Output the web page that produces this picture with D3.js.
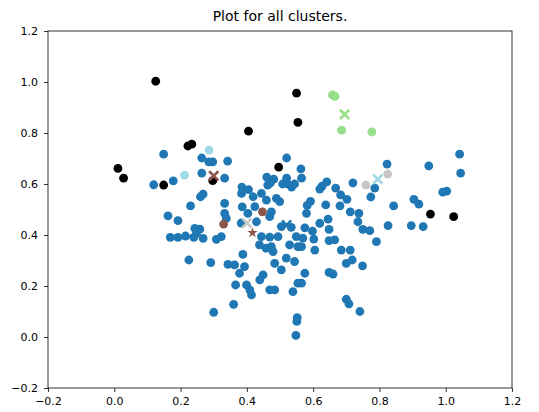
<!DOCTYPE html>
<html>
<head>
<meta charset="utf-8">
<script src="https://cdn.jsdelivr.net/npm/d3@7"></script>
<style>
  html, body { margin: 0; padding: 0; background: #fff; }
  svg { display: block; }
  text { font-family: "DejaVu Sans", sans-serif; fill: #000; }
</style>
</head>
<body>
<svg id="chart" width="539" height="412"></svg>
<script>
// Cluster members as [x, y] pairs
const clusterBlue = [
  [0.149,0.717],[0.119,0.597],[0.178,0.612],[0.264,0.702],[0.285,0.687],[0.297,0.687],
  [0.342,0.690],[0.264,0.643],[0.333,0.623],[0.520,0.702],[0.563,0.659],[0.460,0.627],
  [0.481,0.619],[0.463,0.596],[0.471,0.604],[0.520,0.623],[0.523,0.600],[0.508,0.600],
  [0.535,0.588],[0.544,0.600],[0.565,0.623],[0.627,0.592],[0.641,0.608],[0.385,0.588],
  [0.405,0.578],[0.260,0.550],[0.268,0.560],[0.384,0.563],[0.419,0.550],[0.444,0.563],
  [0.459,0.537],[0.489,0.544],[0.499,0.531],[0.333,0.524],[0.424,0.511],[0.403,0.485],
  [0.333,0.485],[0.338,0.465],[0.429,0.452],[0.469,0.472],[0.474,0.491],[0.504,0.433],
  [0.534,0.430],[0.444,0.394],[0.469,0.392],[0.494,0.394],[0.549,0.394],[0.438,0.361],
  [0.458,0.348],[0.474,0.354],[0.479,0.335],[0.529,0.361],[0.554,0.354],[0.388,0.324],
  [0.519,0.309],[0.544,0.296],[0.484,0.289],[0.504,0.263],[0.343,0.285],[0.363,0.283],
  [0.393,0.276],[0.378,0.250],[0.449,0.244],[0.439,0.224],[0.323,0.394],[0.366,0.204],
  [0.399,0.204],[0.409,0.185],[0.414,0.165],[0.469,0.185],[0.484,0.185],[0.539,0.178],
  [0.360,0.128],[0.569,0.388],[0.602,0.384],[0.565,0.354],[0.605,0.341],[0.575,0.250],
  [0.554,0.211],[0.565,0.211],[0.300,0.097],[0.552,0.076],[0.551,0.061],[0.548,0.006],
  [0.230,0.514],[0.162,0.475],[0.192,0.456],[0.243,0.426],[0.258,0.423],[0.248,0.407],
  [0.169,0.391],[0.192,0.391],[0.215,0.396],[0.240,0.391],[0.268,0.387],[0.308,0.383],
  [0.225,0.302],[0.291,0.292],[0.823,0.678],[0.949,0.671],[1.042,0.717],[1.045,0.643],
  [0.786,0.584],[0.668,0.584],[0.720,0.604],[0.620,0.580],[0.683,0.557],[0.702,0.540],
  [0.774,0.549],[0.904,0.540],[0.919,0.521],[0.991,0.568],[1.003,0.572],[0.843,0.514],
  [0.638,0.518],[0.681,0.514],[0.712,0.491],[0.738,0.485],[0.645,0.462],[0.620,0.446],
  [0.735,0.452],[0.750,0.422],[0.771,0.417],[0.648,0.422],[0.826,0.437],[0.896,0.437],
  [0.932,0.433],[0.791,0.374],[0.648,0.378],[0.665,0.381],[0.685,0.341],[0.712,0.341],
  [0.700,0.289],[0.718,0.302],[0.749,0.279],[0.648,0.253],[0.660,0.247],[0.700,0.148],
  [0.708,0.130],[0.741,0.100],[0.592,0.532],[0.582,0.516],[0.580,0.485],[0.575,0.428],
  [0.598,0.415],[0.386,0.510],[0.383,0.447]
];
const clusterNoise = [
  [0.125,1.003],[0.550,0.956],[0.554,0.842],[0.405,0.807],[0.222,0.749],[0.234,0.756],
  [0.496,0.666],[0.011,0.661],[0.028,0.623],[0.149,0.596],[0.297,0.613],[0.954,0.482],
  [1.024,0.472]
];
const clusterGreen = [[0.658,0.949],[0.666,0.944],[0.686,0.811],[0.777,0.804]];
const clusterCyan  = [[0.286,0.733],[0.212,0.635]];
const clusterBrown = [[0.447,0.491],[0.330,0.443]];
const clusterGray  = [[0.759,0.596],[0.825,0.639]];

// Cluster centres
const centreNames  = ["blue", "green", "cyan", "brown", "gray"];
const centreX      = [0.520, 0.695, 0.795, 0.300, 0.400];
const centreY      = [0.439, 0.873, 0.619, 0.632, 0.447];
const starPoint    = [0.417, 0.409];

const xTicks = [-0.2, 0.0, 0.2, 0.4, 0.6, 0.8, 1.0, 1.2];
const yTicks = [-0.2, 0.0, 0.2, 0.4, 0.6, 0.8, 1.0, 1.2];
const titleText = "Plot for all clusters.";

const colors = {
  blue: "#1f77b4", noise: "#000000", green: "#98df8a",
  cyan: "#9edae5", brown: "#8c564b", gray: "#c7c7c7"
};

const svg = d3.select("#chart");
const plot = { left: 48, right: 512, top: 31, bottom: 388 };

const x = d3.scaleLinear().domain([-0.2, 1.2]).range([plot.left, plot.right]);
const y = d3.scaleLinear().domain([-0.2, 1.2]).range([plot.bottom, plot.top]);

const fmt = d3.format(".1f");

// Axes
const xAxis = svg.append("g")
  .attr("transform", `translate(0,${plot.bottom})`)
  .call(d3.axisBottom(x).tickValues(xTicks).tickFormat(fmt).tickSizeOuter(0).tickSize(4).tickPadding(5));
const yAxis = svg.append("g")
  .attr("transform", `translate(${plot.left},0)`)
  .call(d3.axisLeft(y).tickValues(yTicks).tickFormat(fmt).tickSizeOuter(0).tickSize(4).tickPadding(6));
[xAxis, yAxis].forEach(g => {
  g.select(".domain").remove();
  g.selectAll(".tick line").attr("stroke", "#000").attr("stroke-width", 0.8);
  g.selectAll(".tick text").style("font-size", "11px").style("font-family", "DejaVu Sans, sans-serif");
});

// Frame
svg.append("rect")
  .attr("x", plot.left).attr("y", plot.top)
  .attr("width", plot.right - plot.left).attr("height", plot.bottom - plot.top)
  .attr("fill", "none").attr("stroke", "#000").attr("stroke-width", 0.8);

// Title
svg.append("text")
  .attr("x", (plot.left + plot.right) / 2).attr("y", 21)
  .attr("text-anchor", "middle")
  .style("font-size", "14px")
  .text(titleText);

const pts = svg.append("g");
function drawCluster(data, color) {
  pts.selectAll(null).data(data).enter().append("circle")
    .attr("cx", d => x(d[0])).attr("cy", d => y(d[1]))
    .attr("r", 4.4).attr("fill", color);
}
drawCluster(clusterBlue, colors.blue);
drawCluster(clusterNoise, colors.noise);
drawCluster(clusterGreen, colors.green);
drawCluster(clusterCyan, colors.cyan);
drawCluster(clusterBrown, colors.brown);
drawCluster(clusterGray, colors.gray);

// Centre markers drawn as crosses
const centres = centreNames.map((n, i) => ({ name: n, cx: centreX[i], cy: centreY[i] }));
const cg = svg.append("g");
const h = 4.6;
centres.forEach(c => {
  const px = x(c.cx), py = y(c.cy);
  cg.append("path")
    .attr("d", `M${px - h},${py - h}L${px + h},${py + h}M${px - h},${py + h}L${px + h},${py - h}`)
    .attr("stroke", colors[c.name]).attr("stroke-width", 2.6).attr("fill", "none");
});

// Star marker
svg.append("path")
  .attr("d", d3.symbol().type(d3.symbolStar).size(34)())
  .attr("transform", `translate(${x(starPoint[0])},${y(starPoint[1])})`)
  .attr("fill", colors.brown);
</script>
</body>
</html>
